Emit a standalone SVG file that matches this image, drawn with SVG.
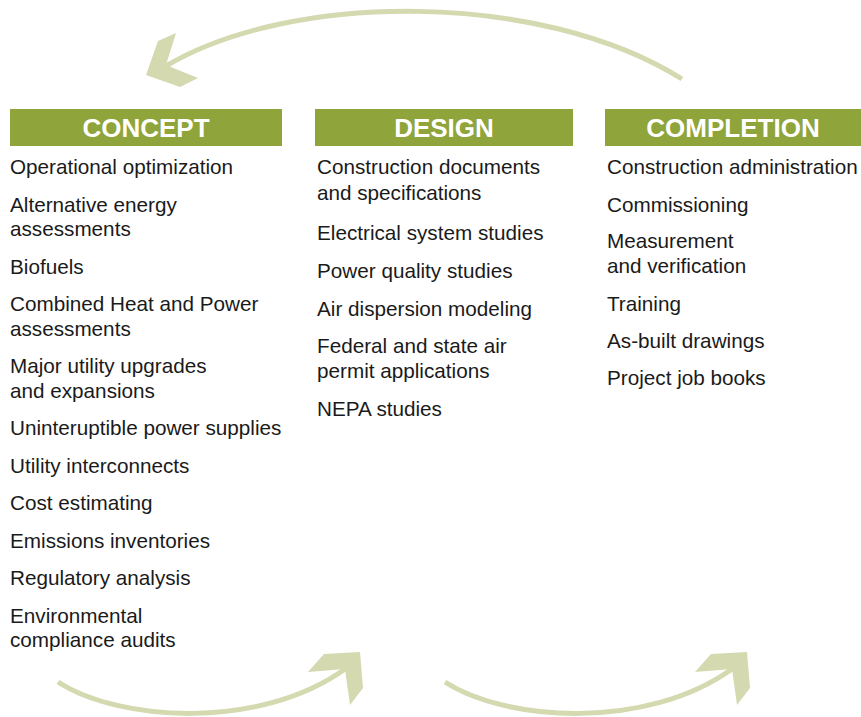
<svg xmlns="http://www.w3.org/2000/svg" width="861" height="717" viewBox="0 0 861 717">
<style>
.bar{fill:#8fa43a}
.hd{font-family:"Liberation Sans",Arial,sans-serif;font-weight:bold;font-size:26px;fill:#ffffff;text-anchor:middle}
.tx{font-family:"Liberation Sans",Arial,sans-serif;font-size:20.7px;fill:#1a1a1a}
.arc{fill:none;stroke:#d4d9b0;stroke-width:5}
.head{fill:#d4d9b0}
</style>
<rect width="861" height="717" fill="#ffffff"/>
<g id="connectors">
  <path class="arc" d="M166,66 C290,-8 540,-10 682,79"/>
  <polygon class="head" points="158,41 176,33 166,65 198,78 180,87 146,75"/>
  <path class="arc" d="M58,682 C120,722 260,730 345,669"/>
  <polygon class="head" points="308,672 324,654 360,652 363,688 350,705 345,669"/>
  <path class="arc" d="M445,682 C507,722 647,730 732,669"/>
  <polygon class="head" points="695,672 711,654 747,652 750,688 737,705 732,669"/>
</g>
<g id="concept">
  <rect class="bar" x="10" y="109" width="272" height="37"/>
  <text class="hd" x="146" y="137">CONCEPT</text>
  <text class="tx" x="10" y="174">Operational optimization</text>
  <text class="tx" x="10" y="211.5">Alternative energy</text>
  <text class="tx" x="10" y="236">assessments</text>
  <text class="tx" x="10" y="273.5">Biofuels</text>
  <text class="tx" x="10" y="311">Combined Heat and Power</text>
  <text class="tx" x="10" y="335.5">assessments</text>
  <text class="tx" x="10" y="373">Major utility upgrades</text>
  <text class="tx" x="10" y="397.5">and expansions</text>
  <text class="tx" x="10" y="435">Uninteruptible power supplies</text>
  <text class="tx" x="10" y="472.5">Utility interconnects</text>
  <text class="tx" x="10" y="510">Cost estimating</text>
  <text class="tx" x="10" y="547.5">Emissions inventories</text>
  <text class="tx" x="10" y="585">Regulatory analysis</text>
  <text class="tx" x="10" y="622.5">Environmental</text>
  <text class="tx" x="10" y="647">compliance audits</text>
</g>
<g id="design">
  <rect class="bar" x="315" y="109" width="258" height="37"/>
  <text class="hd" x="444" y="137">DESIGN</text>
  <text class="tx" x="317" y="174">Construction documents</text>
  <text class="tx" x="317" y="200">and specifications</text>
  <text class="tx" x="317" y="239.5">Electrical system studies</text>
  <text class="tx" x="317" y="277.5">Power quality studies</text>
  <text class="tx" x="317" y="315.5">Air dispersion modeling</text>
  <text class="tx" x="317" y="352.5">Federal and state air</text>
  <text class="tx" x="317" y="377.5">permit applications</text>
  <text class="tx" x="317" y="415.5">NEPA studies</text>
</g>
<g id="completion">
  <rect class="bar" x="605" y="109" width="256" height="37"/>
  <text class="hd" x="733" y="137">COMPLETION</text>
  <text class="tx" x="607" y="174">Construction administration</text>
  <text class="tx" x="607" y="212">Commissioning</text>
  <text class="tx" x="607" y="248">Measurement</text>
  <text class="tx" x="607" y="273">and verification</text>
  <text class="tx" x="607" y="311">Training</text>
  <text class="tx" x="607" y="348">As-built drawings</text>
  <text class="tx" x="607" y="385">Project job books</text>
</g>
</svg>
